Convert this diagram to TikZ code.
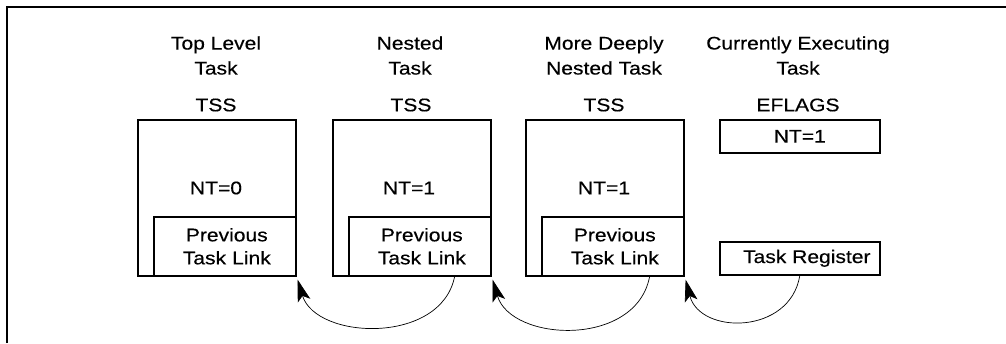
\documentclass[tikz,border=0pt]{standalone}
\usepackage{fontspec}
\setmainfont{Liberation Sans}[FakeStretch=1.15,FakeBold=0.35]
\usetikzlibrary{arrows.meta,calc}
\begin{document}
\begin{tikzpicture}[x=1pt,y=-1pt,
  box/.style={draw,line width=1.6pt,inner sep=0pt},
  lbl/.style={align=center,inner sep=0pt,font=\fontsize{18.3}{25}\selectfont},
  link/.style={line width=0.7pt,-{Stealth[length=22pt,width=13pt,inset=5pt]}}]
\useasboundingbox (0,0) rectangle (1006,343);
\draw[line width=2pt] (7,343) -- (7,7) -- (1006,7);
% headings
\node[lbl] (h1) at (216,55.5) {Top Level\\Task};
\node[lbl] (h2) at (410,55.5) {Nested\\Task};
\node[lbl] (h3) at (604,55.5) {More Deeply\\Nested Task};
\node[lbl] (h4) at (798,55.5) {Currently Executing\\Task};
\node[lbl] (t1) at (216,105) {TSS};
\node[lbl] (t2) at (411,105) {TSS};
\node[lbl] (t3) at (604,105) {TSS};
\node[lbl] (t4) at (798,105) {EFLAGS};
% TSS boxes
\node[box,minimum width=158pt,minimum height=156pt,anchor=north west] (tss1) at (137,119) {};
\node[box,minimum width=158pt,minimum height=156pt,anchor=north west] (tss2) at (332,119) {};
\node[box,minimum width=158pt,minimum height=156pt,anchor=north west] (tss3) at (525,119) {};
\node[lbl] (nt1) at (216,188) {NT=0};
\node[lbl] (nt2) at (409,188) {NT=1};
\node[lbl] (nt3) at (604,188) {NT=1};
\node[box,lbl,font=\fontsize{18.3}{23}\selectfont,minimum width=142pt,minimum height=59pt,anchor=south east,text width=142pt] (pl1) at (tss1.south east) {\hspace*{4pt}Previous\\\hspace*{4pt}Task Link};
\node[box,lbl,font=\fontsize{18.3}{23}\selectfont,minimum width=142pt,minimum height=59pt,anchor=south east,text width=142pt] (pl2) at (tss2.south east) {\hspace*{4pt}Previous\\\hspace*{4pt}Task Link};
\node[box,lbl,font=\fontsize{18.3}{23}\selectfont,minimum width=142pt,minimum height=59pt,anchor=south east,text width=142pt] (pl3) at (tss3.south east) {\hspace*{4pt}Previous\\\hspace*{4pt}Task Link};
% current task
\node[box,lbl,minimum width=160pt,minimum height=33pt,anchor=north west] (ef) at (719,119) {NT=1};
\node[box,lbl,minimum width=160pt,minimum height=33pt,anchor=north west] (tr) at (719,241) {\hspace*{14pt}Task Register};
% links
\draw[link] ($(pl2.south east)+(-37,0)$) .. controls (441,345) and (316,340) .. ($(tss1.south east)+(1,3)$);
\draw[link] ($(pl3.south east)+(-35,0)$) .. controls (636,348) and (511,342) .. ($(tss2.south east)+(1,3)$);
\draw[link] ($(tr.south)+(0,0)$) .. controls (790,335) and (700,335) .. ($(tss3.south east)+(1,3)$);
\end{tikzpicture}
\end{document}
